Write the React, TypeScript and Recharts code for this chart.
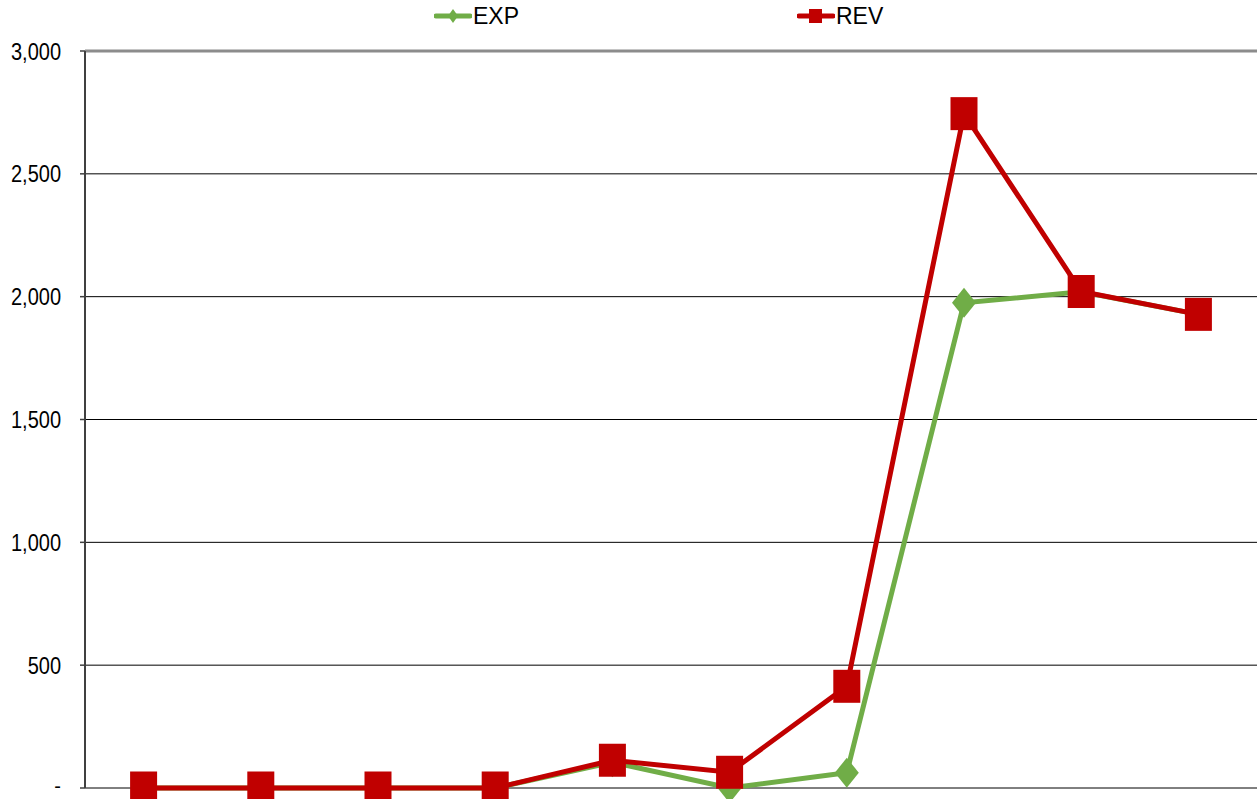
import React from "react";
import { ComposedChart, Line, XAxis, YAxis, CartesianGrid, ReferenceLine } from "recharts";

const categories = ["1", "2", "3", "4", "5", "6", "7", "8", "9", "10"];
const expValues = [0, 0, 0, 0, 105, 0, 62, 1975, 2020, 1928];
const revValues = [0, 0, 0, 0, 113, 64, 414, 2745, 2021, 1928];
const yTicks = [0, 500, 1000, 1500, 2000, 2500, 3000];

const data = categories.map((c, i) => ({ cat: c, EXP: expValues[i], REV: revValues[i] }));

const GREEN = "#70AD47";
const RED = "#C00000";
const FONT = "'Liberation Sans', Arial, sans-serif";

const Diamond = (props: any) => {
  const { cx, cy } = props;
  if (cx == null || cy == null) return null;
  return <polygon points={`${cx},${cy - 15} ${cx + 12},${cy} ${cx},${cy + 15} ${cx - 12},${cy}`} fill={GREEN} />;
};

const Square = (props: any) => {
  const { cx, cy } = props;
  if (cx == null || cy == null) return null;
  return <rect x={cx - 13.5} y={cy - 16.5} width={27} height={33} fill={RED} />;
};

const fmt = (v: number) => (v === 0 ? "-" : v.toLocaleString("en-US"));

const YTick = (props: any) => {
  const { x, y, payload } = props;
  const isZero = payload.value === 0;
  return (
    <g transform={isZero ? `translate(${x},${y - 2})` : `translate(${x},${y}) scale(1,1.22)`}>
      <text x={0} y={0} dy="0.355em" textAnchor="end" fontFamily={FONT} fontSize={20} fill="#000">
        {fmt(payload.value)}
      </text>
    </g>
  );
};

const LegendItem = ({ left, color, label, square }: any) => (
  <div style={{ position: "absolute", left, top: 0, display: "flex", alignItems: "center", height: 32 }}>
    <svg width={38} height={20}>
      <line x1={2} y1={10} x2={36} y2={10} stroke={color} strokeWidth={5} strokeLinecap="round" />
      {square ? (
        <rect x={12} y={3} width={13} height={14} fill={color} />
      ) : (
        <polygon points="19,3 24,10 19,17 14,10" fill={color} />
      )}
    </svg>
    <span style={{ fontFamily: FONT, fontSize: 23, color: "#000", marginLeft: 1, lineHeight: "32px" }}>{label}</span>
  </div>
);

export default function App() {
  return (
    <div style={{ position: "absolute", left: 0, top: 0, width: 1257, height: 799, background: "#fff" }}>
      <ComposedChart width={1257} height={799} data={data} margin={{ top: 51, right: 0, bottom: 11, left: 0 }}>
        <CartesianGrid horizontal={true} vertical={false} stroke="#000" strokeWidth={1} />
        <XAxis dataKey="cat" scale="band" tick={false} tickLine={false} height={0} axisLine={{ stroke: "#8c8c8c", strokeWidth: 2 }} />
        <YAxis
          width={85}
          domain={[0, 3000]}
          ticks={yTicks}
          tickSize={5}
          tickMargin={19}
          tick={<YTick />}
          tickLine={{ stroke: "#404040", strokeWidth: 1.5 }}
          axisLine={{ stroke: "#404040", strokeWidth: 2 }}
        />
        <ReferenceLine y={3000} stroke="#8c8c8c" strokeWidth={3} />
        <Line dataKey="EXP" stroke={GREEN} strokeWidth={5} dot={<Diamond />} activeDot={false} isAnimationActive={false} />
        <Line dataKey="REV" stroke={RED} strokeWidth={5} dot={<Square />} activeDot={false} isAnimationActive={false} />
      </ComposedChart>
      <LegendItem left={434} color={GREEN} label="EXP" square={false} />
      <LegendItem left={797} color={RED} label="REV" square={true} />
    </div>
  );
}
